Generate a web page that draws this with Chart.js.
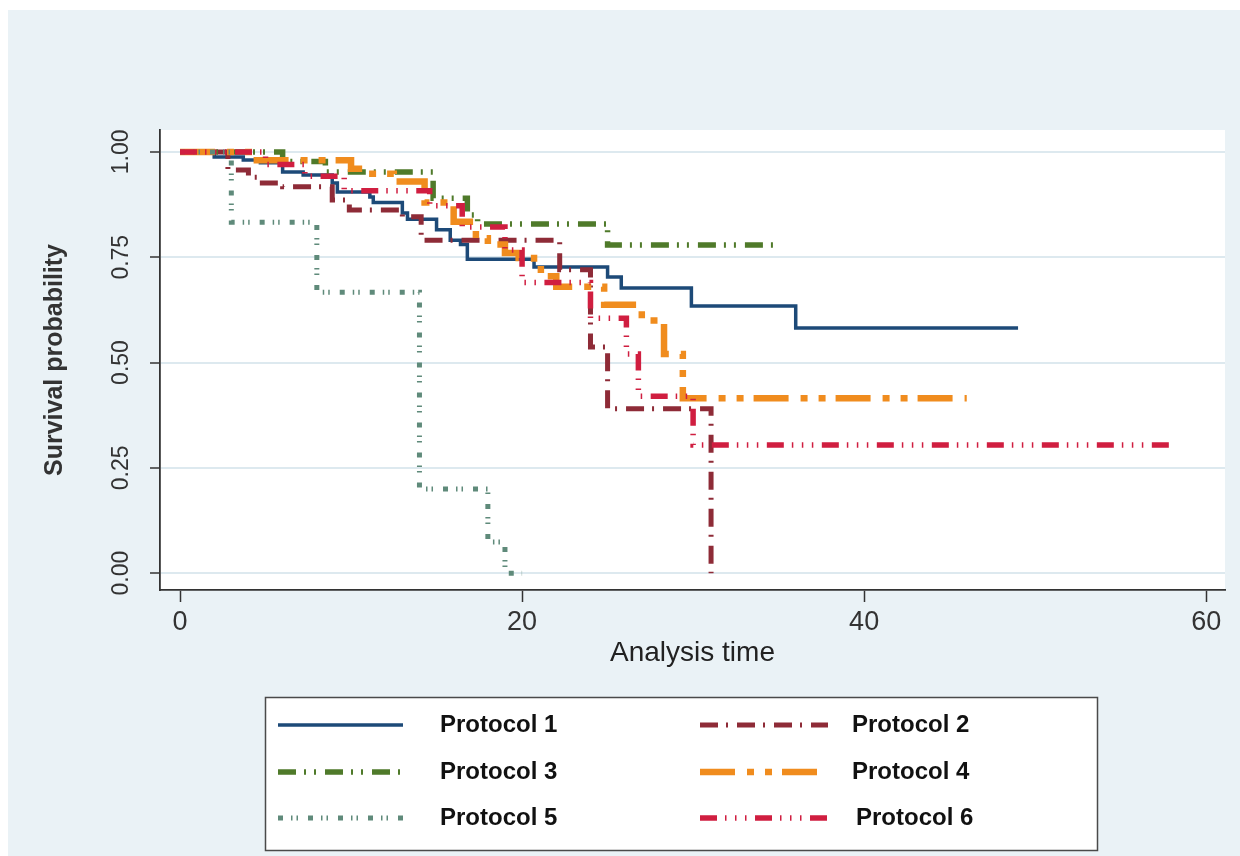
<!DOCTYPE html>
<html lang="en">
  <head>
    <meta charset="UTF-8" />
    <title>Survival by protocol</title>
    <script src="https://cdn.jsdelivr.net/npm/chart.js"></script>
    <style>
      body {
        margin: 0;
        background: #ffffff;
      }
      .chart-box {
        position: relative;
        width: 1240px;
        height: 856px;
      }
    </style>
  </head>
  <body>
    <div class="chart-box">
      <canvas id="kmChart"></canvas>
    </div>
    <script>
      // Kaplan-Meier steps (time, survival)
      const p1Time = [0, 2, 3.7, 4.7, 6, 7.2, 8.9, 9.2, 11.1, 11.3, 13, 13.3, 15, 15.8, 16.4, 16.8, 20.7, 25, 25.8, 29.9, 36, 49];
      const p1Surv = [1, 0.988, 0.981, 0.974, 0.952, 0.945, 0.926, 0.905, 0.893, 0.88, 0.855, 0.84, 0.815, 0.79, 0.78, 0.745, 0.727, 0.703, 0.677, 0.634, 0.582, 0.582];

      const p2Time = [0, 2.8, 4, 4.6, 6, 8.9, 9.9, 13, 14.1, 22.2, 24, 25, 31.05];
      const p2Surv = [1, 0.957, 0.94, 0.926, 0.917, 0.886, 0.862, 0.846, 0.79, 0.72, 0.537, 0.39, 0];

      const p3Time = [0, 6, 8.5, 14.8, 16.8, 17.4, 25, 35];
      const p3Surv = [1, 0.977, 0.952, 0.89, 0.85, 0.829, 0.779, 0.779];

      const p4Time = [0, 4.3, 10, 11, 12.5, 14.3, 16, 17.3, 18, 19, 19.8, 20.7, 21.1, 22, 24.8, 27, 28.3, 29.4, 46];
      const p4Surv = [1, 0.98, 0.96, 0.948, 0.93, 0.88, 0.834, 0.795, 0.78, 0.76, 0.748, 0.73, 0.705, 0.68, 0.637, 0.6, 0.52, 0.415, 0.415];

      const p5Time = [0, 3, 8, 14, 18, 19, 20];
      const p5Surv = [1, 0.833, 0.667, 0.2, 0.074, 0, 0];

      const p6Time = [0, 5, 7.3, 9.6, 14.6, 16.5, 19, 20, 24, 26.1, 26.8, 30, 58];
      const p6Surv = [1, 0.97, 0.942, 0.908, 0.872, 0.822, 0.767, 0.69, 0.605, 0.52, 0.42, 0.304, 0.304];

      const protocolNames = ["Protocol 1", "Protocol 2", "Protocol 3", "Protocol 4", "Protocol 5", "Protocol 6"];
      const xTicks = [0, 20, 40, 60];
      const yTicks = [0, 0.25, 0.5, 0.75, 1];

      const series = [
        { t: p1Time, s: p1Surv, color: "#1d4a78", width: 3.5, dash: [] },
        { t: p2Time, s: p2Surv, color: "#8e2b37", width: 5, dash: [18, 8, 2, 9] },
        { t: p3Time, s: p3Surv, color: "#4f7a2a", width: 5.5, dash: [18, 8, 2, 8, 2, 9] },
        { t: p4Time, s: p4Surv, color: "#f08c1e", width: 6.5, dash: [35, 12, 7, 11, 7, 10] },
        { t: p5Time, s: p5Surv, color: "#5f8a7a", width: 5, dash: [5, 8, 1.5, 4, 1.5, 10] },
        { t: p6Time, s: p6Surv, color: "#d01e40", width: 5.5, dash: [17, 8, 1.5, 8.5, 1.5, 8.5, 1.5, 8.5] },
      ];

      const FONT = "'Liberation Sans', Arial, sans-serif";

      const datasets = series.map((d, i) => ({
        label: protocolNames[i],
        data: d.t.map((x, k) => ({ x: x, y: d.s[k] })),
        borderColor: d.color,
        borderWidth: d.width,
        borderDash: d.dash,
        borderCapStyle: "butt",
        borderJoinStyle: "miter",
        stepped: "before",
        pointRadius: 0,
        fill: false,
        order: 6 - i,
      }));

      // background panels
      const backdrop = {
        id: "backdrop",
        beforeDraw(chart) {
          const { ctx, chartArea: a } = chart;
          ctx.save();
          ctx.fillStyle = "#ffffff";
          ctx.fillRect(0, 0, chart.width, chart.height);
          ctx.fillStyle = "#eaf2f6";
          ctx.fillRect(8, 10, chart.width - 8, chart.height - 10);
          ctx.fillStyle = "#ffffff";
          ctx.fillRect(a.left, a.top, a.right - a.left, a.bottom - a.top);
          ctx.restore();
        },
      };

      // legend box like the Stata one
      const boxLegend = {
        id: "boxLegend",
        afterDraw(chart) {
          const ctx = chart.ctx;
          ctx.save();
          ctx.fillStyle = "#ffffff";
          ctx.fillRect(265, 697, 832, 153);
          ctx.strokeStyle = "#4a4a4a";
          ctx.lineWidth = 1.5;
          ctx.strokeRect(265.5, 697.5, 832, 153);

          const rows = [725, 772, 818];
          series.forEach((d, i) => {
            const col = i % 2;
            const row = Math.floor(i / 2);
            const y = rows[row];
            const x0 = col === 0 ? 278 : 700;
            const x1 = col === 0 ? 403 : 828;
            ctx.beginPath();
            ctx.setLineDash(d.dash);
            ctx.lineCap = "butt";
            ctx.strokeStyle = d.color;
            ctx.lineWidth = d.width;
            ctx.moveTo(x0, y);
            ctx.lineTo(x1, y);
            ctx.stroke();

            ctx.setLineDash([]);
            ctx.fillStyle = "#111111";
            ctx.font = "bold 24px " + FONT;
            ctx.textBaseline = "middle";
            ctx.textAlign = "left";
            const tx = col === 0 ? 440 : (i === 5 ? 856 : 852);
            ctx.fillText(protocolNames[i], tx, y);
          });
          ctx.restore();
        },
      };

      const ctx = document.getElementById("kmChart").getContext("2d");
      const kmChart = new Chart(ctx, {
        type: "line",
        data: { datasets: datasets },
        options: {
          responsive: true,
          maintainAspectRatio: false,
          animation: false,
          devicePixelRatio: 1,
          layout: { padding: { top: 130, right: 15, left: 0, bottom: 0 } },
          plugins: {
            legend: { display: false },
            tooltip: { enabled: false },
          },
          scales: {
            x: {
              type: "linear",
              min: -1.17,
              max: 61.1,
              afterBuildTicks: (scale) => {
                scale.ticks = xTicks.map((v) => ({ value: v }));
              },
              afterFit: (scale) => {
                scale.height = 266;
              },
              grid: {
                drawOnChartArea: false,
                drawTicks: true,
                tickLength: 12,
                tickColor: "#333333",
                tickWidth: 1.5,
              },
              border: { display: true, color: "#333333", width: 1.8 },
              ticks: {
                color: "#333333",
                font: { family: FONT, size: 27 },
                padding: 4,
                maxRotation: 0,
                callback: (v) => String(v),
              },
              title: {
                display: true,
                text: "Analysis time",
                color: "#222222",
                font: { family: FONT, size: 28 },
                padding: { top: 0, bottom: 186 },
              },
            },
            y: {
              type: "linear",
              min: -0.04,
              max: 1.052,
              afterBuildTicks: (scale) => {
                scale.ticks = yTicks.map((v) => ({ value: v }));
              },
              afterFit: (scale) => {
                scale.width = 160;
              },
              grid: {
                color: "#dde9ef",
                lineWidth: 2,
                tickLength: 10,
                tickColor: "#333333",
                tickWidth: 1.5,
              },
              border: { display: true, color: "#333333", width: 1.8 },
              ticks: {
                color: "#333333",
                font: { family: FONT, size: 23 },
                padding: 6,
                minRotation: 90,
                maxRotation: 90,
                crossAlign: "center",
                callback: (v) => Number(v).toFixed(2),
              },
              title: {
                display: true,
                text: "Survival probability",
                color: "#333333",
                font: { family: FONT, size: 25, weight: "bold" },
                padding: { top: 40, bottom: 0 },
              },
            },
          },
        },
        plugins: [backdrop, boxLegend],
      });
    </script>
  </body>
</html>
